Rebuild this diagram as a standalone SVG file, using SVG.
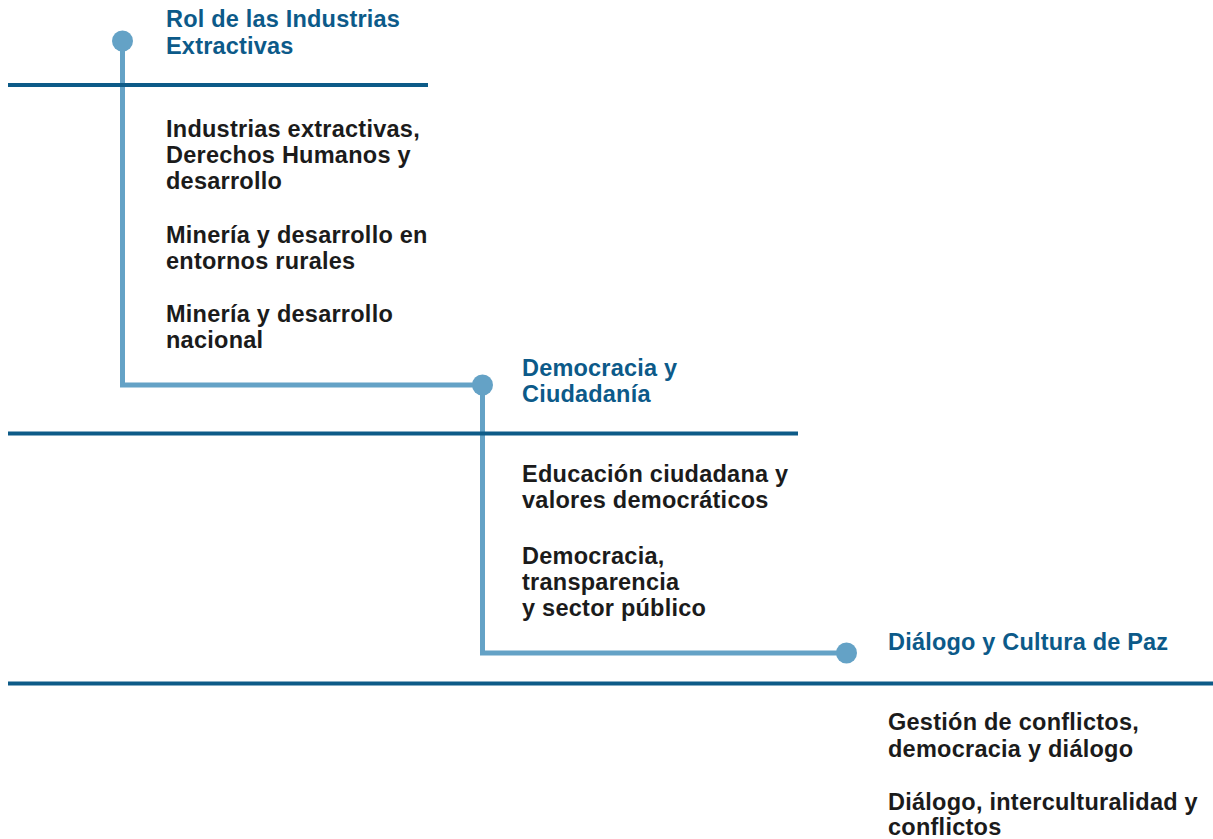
<svg xmlns="http://www.w3.org/2000/svg" width="1213" height="839" viewBox="0 0 1213 839">
<style>
.title{font-family:"Liberation Sans",Arial,sans-serif;font-weight:bold;font-size:23.5px;fill:#0c5a89;letter-spacing:0.2px}
.body{font-family:"Liberation Sans",Arial,sans-serif;font-weight:bold;font-size:23.5px;fill:#1b1b1b;letter-spacing:0.25px}
.rule{stroke:#0d5b88;stroke-width:4;fill:none}
.conn{stroke:#64a2c6;stroke-width:5;fill:none}
.dot{fill:#64a2c6}
</style>
<rect width="1213" height="839" fill="#ffffff"/>
<g id="connectors">
<path class="conn" d="M122.5,41 V385 H482.5 V653 H846"/>
</g>
<g id="rules">
<line class="rule" x1="8" y1="85" x2="428" y2="85"/>
<line class="rule" x1="8" y1="433.5" x2="798" y2="433.5"/>
<line class="rule" x1="8" y1="683.5" x2="1213" y2="683.5"/>
</g>
<g id="node-rol">
<circle class="dot" cx="122.5" cy="41" r="10.5"/>
<text class="title" x="166" y="27">Rol de las Industrias</text>
<text class="title" x="166" y="54">Extractivas</text>
<text class="body" x="166" y="137">Industrias extractivas,</text>
<text class="body" x="166" y="163">Derechos Humanos y</text>
<text class="body" x="166" y="189">desarrollo</text>
<text class="body" x="166" y="243">Minería y desarrollo en</text>
<text class="body" x="166" y="269">entornos rurales</text>
<text class="body" x="166" y="322">Minería y desarrollo</text>
<text class="body" x="166" y="348">nacional</text>
</g>
<g id="node-democracia">
<circle class="dot" cx="482.5" cy="385" r="10.5"/>
<text class="title" x="522" y="376">Democracia y</text>
<text class="title" x="522" y="402">Ciudadanía</text>
<text class="body" x="522" y="482">Educación ciudadana y</text>
<text class="body" x="522" y="508">valores democráticos</text>
<text class="body" x="522" y="564">Democracia,</text>
<text class="body" x="522" y="590">transparencia</text>
<text class="body" x="522" y="616">y sector público</text>
</g>
<g id="node-dialogo">
<circle class="dot" cx="846.5" cy="653" r="10.5"/>
<text class="title" x="888" y="650">Diálogo y Cultura de Paz</text>
<text class="body" x="888" y="730">Gestión de conflictos,</text>
<text class="body" x="888" y="757">democracia y diálogo</text>
<text class="body" x="888" y="810">Diálogo, interculturalidad y</text>
<text class="body" x="888" y="835">conflictos</text>
</g>
</svg>
